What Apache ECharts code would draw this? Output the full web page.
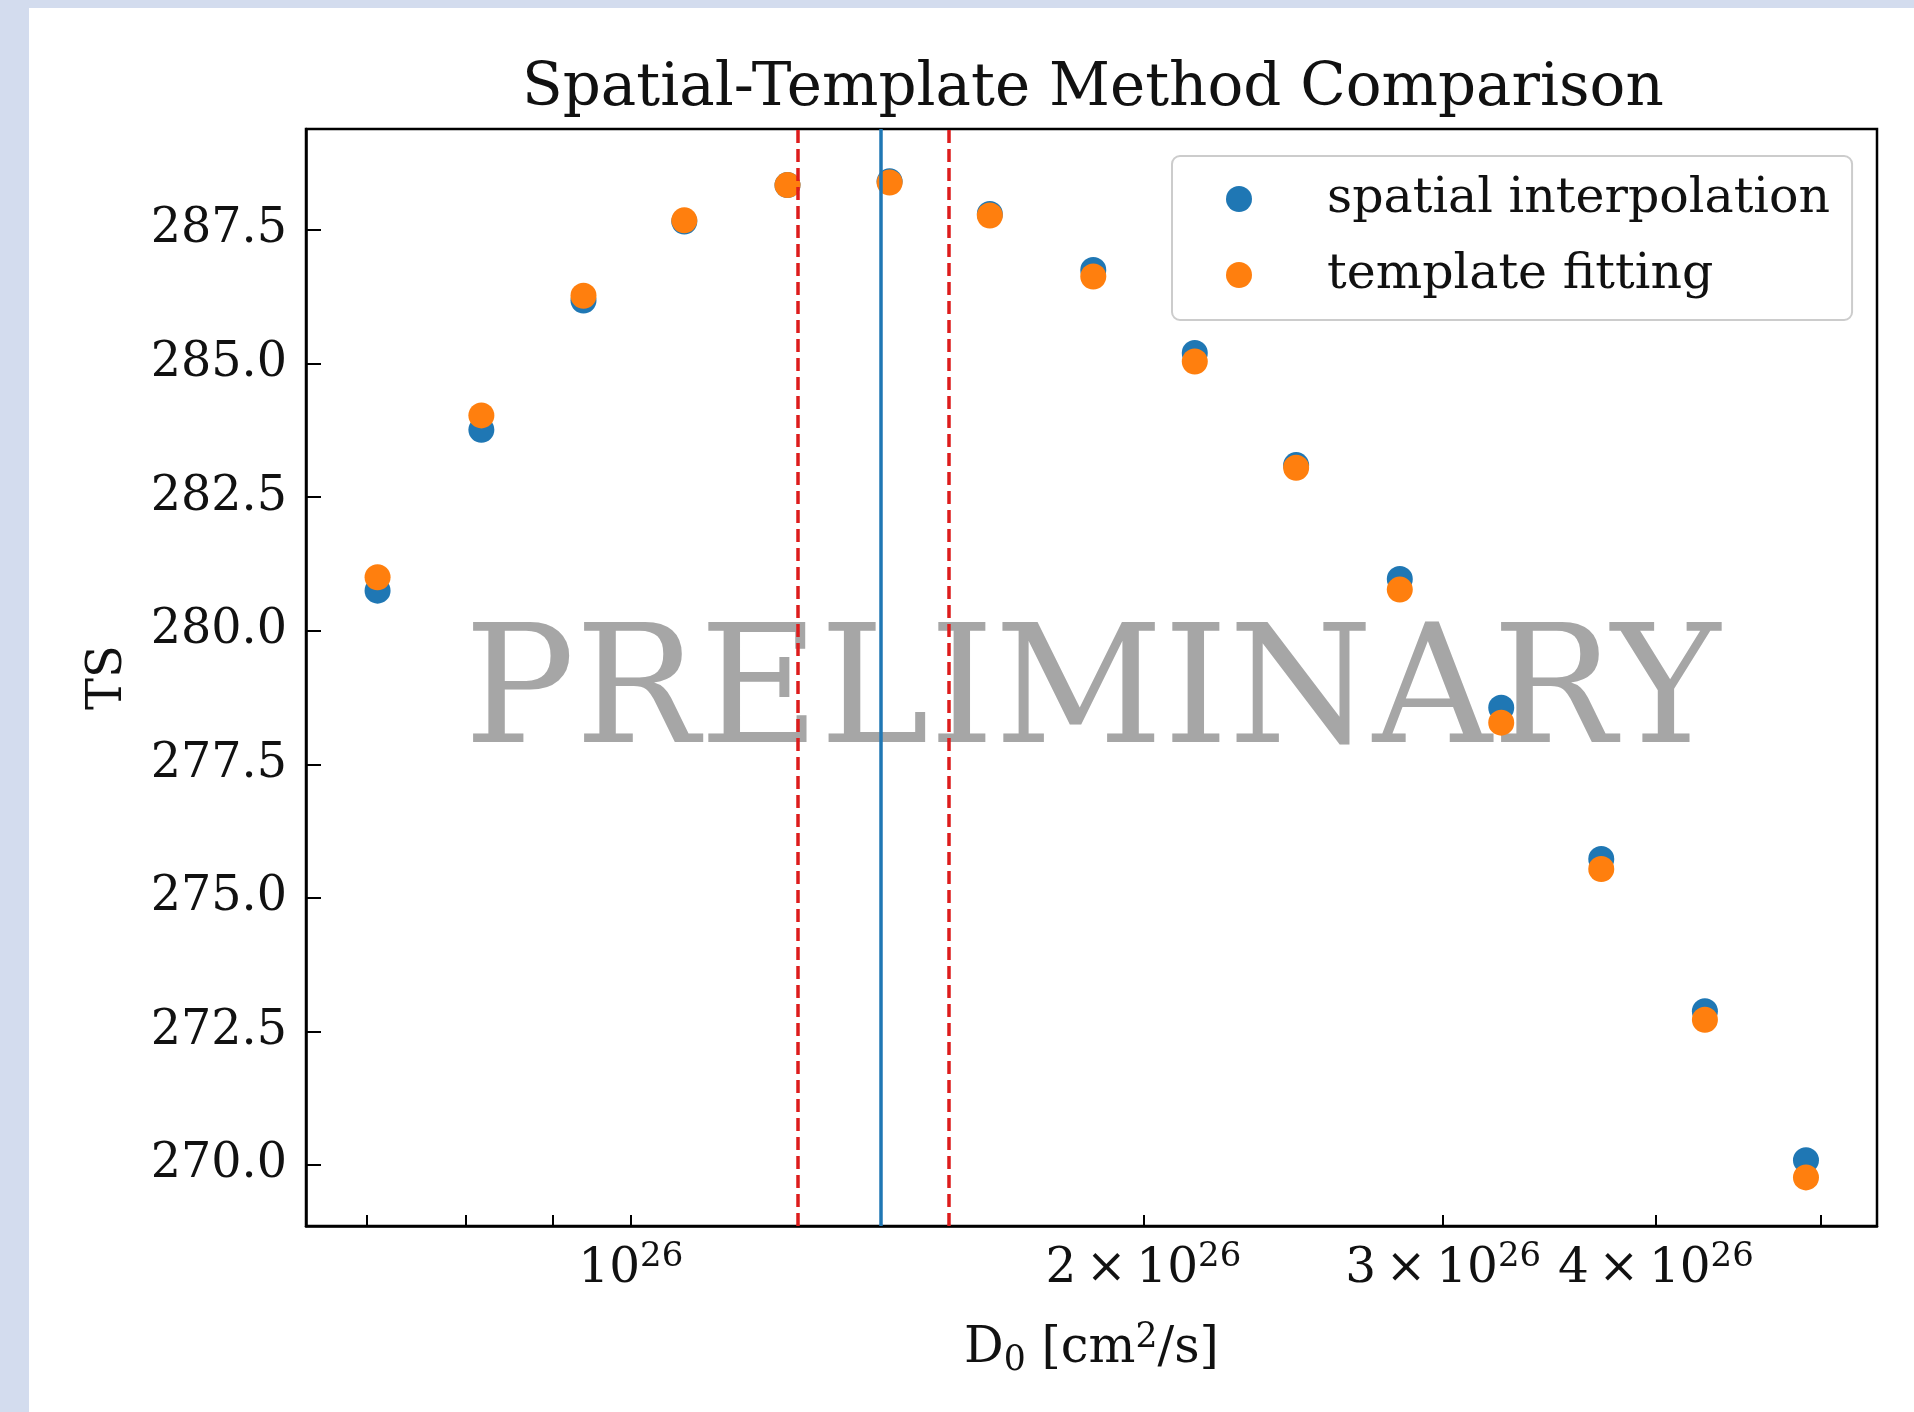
<!DOCTYPE html>
<html>
<head>
<meta charset="utf-8">
<title>Spatial-Template Method Comparison</title>
<script src="https://cdn.jsdelivr.net/npm/echarts@6/dist/echarts.min.js"></script>
<style>
html, body { margin: 0; padding: 0; background: #fff; }
#main { width: 1914px; height: 1412px; }
</style>
</head>
<body>
<div id="main"></div>
<script>
// D0 grid (cm^2/s) and TS values
var d0Values = [7.10e25, 8.17e25, 9.38e25, 1.075e26, 1.236e26, 1.419e26, 1.625e26, 1.869e26,
                2.144e26, 2.459e26, 2.829e26, 3.245e26, 3.715e26, 4.274e26, 4.90e26];
var tsSpatial = [280.75, 283.76, 286.18, 287.66, 288.34, 288.41, 287.80, 286.75,
                 285.20, 283.10, 280.97, 278.56, 275.73, 272.88, 270.09];
var tsTemplate = [281.0, 284.03, 286.27, 287.68, 288.34, 288.39, 287.77, 286.63,
                  285.04, 283.05, 280.77, 278.28, 275.54, 272.72, 269.77];
var bestD0 = [1.403e26];
var bandD0 = [1.254e26, 1.538e26];
var yTicks = [270, 272.5, 275, 277.5, 280, 282.5, 285, 287.5];
var xLabelTicks = [1e26, 2e26, 3e26, 4e26];
var xTicks = [7e25, 8e25, 9e25, 1e26, 2e26, 3e26, 4e26, 5e26];
var seriesNames = ['spatial interpolation', 'template fitting'];

var FONT = 'DejaVu Serif';
var myChart = echarts.init(document.getElementById('main'));

function pairs(xs, ys) {
	var out = [];
	for (var i = 0; i < xs.length; i++) {
		out.push([xs[i], ys[i]]);
	}
	return out;
}

function supRich(size) {
	return {
		b: { fontFamily: FONT, fontSize: size, color: '#111', lineHeight: 58 },
		sup: { fontFamily: FONT, fontSize: size * 0.7, color: '#111', lineHeight: 30, verticalAlign: 'top' },
		sub: { fontFamily: FONT, fontSize: size * 0.7, color: '#111', lineHeight: 30, verticalAlign: 'bottom' }
	};
}

var option = {
	animation: false,
	backgroundColor: '#ffffff',
	title: {
		text: 'Spatial-Template Method Comparison',
		left: 522,
		top: 60,
		padding: 0,
		textStyle: { fontFamily: FONT, fontSize: 59.5, fontWeight: 'normal', color: '#111' }
	},
	graphic: [
		{ type: 'rect', z: 0, shape: { x: 0, y: 0, width: 29, height: 1412 }, style: { fill: '#d3dcee' } },
		{ type: 'rect', z: 0, shape: { x: 0, y: 0, width: 1914, height: 8 }, style: { fill: '#d3dcee' } },
		{
			type: 'text', z: 0, x: 1092, y: 699,
			style: {
				text: 'PRELIMINARY', fontFamily: FONT, fontSize: 165,
				fill: '#a6a6a6', align: 'center', verticalAlign: 'middle'
			}
		}
	],
	legend: {
		data: seriesNames,
		orient: 'vertical',
		left: 1172,
		top: 156,
		padding: [15, 22, 17, 54],
		itemWidth: 60,
		itemHeight: 26,
		itemGap: 20,
		icon: 'circle',
		borderColor: '#cccccc',
		borderWidth: 2,
		borderRadius: 8,
		backgroundColor: 'rgba(255,255,255,0.8)',
		textStyle: { fontFamily: FONT, fontSize: 49, color: '#111', lineHeight: 56, padding: [0, 0, 0, 53] }
	},
	grid: {
		left: 306, top: 129, width: 1571, height: 1097,
		show: true, borderColor: '#000', borderWidth: 2.5, backgroundColor: 'transparent'
	},
	xAxis: {
		type: 'log',
		min: 6.445e25,
		max: 5.394e26,
		name: '{b|D}{sub|0}{b| [cm}{sup|2}{b|/s]}',
		nameLocation: 'middle',
		nameGap: 94,
		nameTextStyle: { rich: supRich(49.5) },
		axisLine: { lineStyle: { color: '#000', width: 2.5 } },
		axisTick: { inside: true, length: 11, lineStyle: { color: '#000', width: 2 }, customValues: xTicks },
		splitLine: { show: false },
		minorTick: { show: false },
		axisLabel: {
			margin: 14,
			customValues: xLabelTicks,
			formatter: function(v) {
				var k = Math.round(v / 1e26);
				if (k === 1) return '{b|10}{sup|26}';
				return '{b|' + k + '\u2009\u00d7\u200910}{sup|26}';
			},
			rich: supRich(48.5)
		}
	},
	yAxis: {
		type: 'value',
		min: 268.86,
		max: 289.39,
		name: 'TS',
		nameLocation: 'middle',
		nameGap: 173,
		nameTextStyle: { fontFamily: FONT, fontSize: 48, color: '#111' },
		axisLine: { show: true, lineStyle: { color: '#000', width: 2.5 } },
		axisTick: { show: true, inside: true, length: 15, lineStyle: { color: '#000', width: 2 }, customValues: yTicks },
		splitLine: { show: false },
		axisLabel: {
			margin: 19,
			fontFamily: FONT, fontSize: 47.6, color: '#111',
			customValues: yTicks,
			formatter: function(v) { return v.toFixed(1); }
		}
	},
	series: [
		{
			name: seriesNames[0],
			type: 'scatter',
			data: pairs(d0Values, tsSpatial),
			symbolSize: 26,
			itemStyle: { color: '#1f77b4', opacity: 1 },
			z: 2
		},
		{
			name: seriesNames[1],
			type: 'scatter',
			data: pairs(d0Values, tsTemplate),
			symbolSize: 26,
			itemStyle: { color: '#ff7f0e', opacity: 1 },
			z: 3
		},
		{
			name: 'bounds',
			type: 'line',
			data: [],
			z: 5,
			markLine: {
				silent: true,
				symbol: ['none', 'none'],
				label: { show: false },
				z: 5,
				data: [
					{ xAxis: bandD0[0], lineStyle: { color: '#dd1c1c', width: 3.5, type: [13, 6], opacity: 1 } },
					{ xAxis: bandD0[1], lineStyle: { color: '#dd1c1c', width: 3.5, type: [13, 6], opacity: 1 } },
					{ xAxis: bestD0[0], lineStyle: { color: '#1f77b4', width: 3.5, type: 'solid', opacity: 1 } }
				]
			}
		}
	]
};
myChart.setOption(option);
</script>
</body>
</html>
